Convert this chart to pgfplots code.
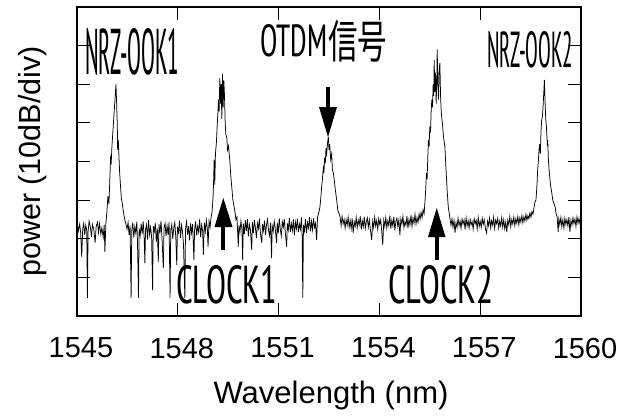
\documentclass[border=0pt]{standalone}
\usepackage{fontspec}
\setmainfont{Liberation Sans}
\newfontfamily\cjk{Noto Sans CJK JP}
\IfFontExistsTF{PT Sans Narrow}{\newfontfamily\narrowfont{PT Sans Narrow}}{\newfontfamily\narrowfont{Liberation Sans}}
\usepackage{graphicx}
\usepackage{pgfplots}
\pgfplotsset{compat=1.18}
\begin{document}
\begin{tikzpicture}
\begin{scope}[x=1pt,y=-1pt,shift={(-77pt,316pt)}]
\path[use as bounding box] (0,0) rectangle (620,416);
\end{scope}
\begin{axis}[at={(0,0)}, anchor=south west, scale only axis,
  width=504pt, height=309pt,
  xmin=1545, xmax=1560, ymin=0, ymax=80,
  xtick={1545,1548,1551,1554,1557,1560},
  ytick={10,20,30,40,50,60,70}, yticklabels={},
  tick align=inside, major tick length=13pt,
  every tick/.style={black, line width=1pt},
  axis line style={line width=2.5pt},
  /pgf/number format/1000 sep={},
  /pgf/number format/assume math mode=true,
  x tick label style={font=\fontsize{29}{29}\selectfont, anchor=north, inner sep=0pt, yshift=-21.7pt, xshift=4pt},
  xlabel={Wavelength (nm)}, ylabel={power (10dB/div)},
  xlabel style={font=\fontsize{31}{31}\selectfont, at={(axis description cs:0.504,-0.2104)}, anchor=north, inner sep=0pt},
  ylabel style={font=\fontsize{30.5}{30.5}\selectfont, at={(axis description cs:-0.1171,0.5)}, anchor=north, inner sep=0pt},
]
\addplot[black, line width=0.75pt] table {
x y
1545.00 24.5
1545.04 22.0
1545.08 23.8
1545.11 21.5
1545.14 15.3
1545.17 22.6
1545.20 24.0
1545.23 21.0
1545.26 23.5
1545.29 22.2
1545.31 4.7
1545.33 21.8
1545.36 24.6
1545.40 22.9
1545.43 20.5
1545.46 23.7
1545.50 22.4
1545.54 19.0
1545.57 23.2
1545.61 24.3
1545.64 21.6
1545.67 23.9
1545.71 21.2
1545.74 22.8
1545.78 20.4
1545.81 23.6
1545.83 16.6
1545.86 24.0
1545.89 27.0
1545.92 31.0
1545.95 29.0
1545.98 36.0
1546.00 41.0
1546.02 40.0
1546.04 44.0
1546.07 48.0
1546.10 52.0
1546.13 56.0
1546.16 60.0
1546.18 55.0
1546.20 49.0
1546.21 43.0
1546.23 45.5
1546.25 41.0
1546.27 37.0
1546.30 33.0
1546.32 30.5
1546.35 29.0
1546.38 27.0
1546.41 25.5
1546.45 24.0
1546.49 22.5
1546.52 24.2
1546.55 21.0
1546.58 23.4
1546.61 4.7
1546.63 22.0
1546.66 24.2
1546.69 20.3
1546.72 23.1
1546.75 21.5
1546.78 24.4
1546.80 19.5
1546.83 4.7
1546.85 22.7
1546.88 20.8
1546.91 23.9
1546.94 21.3
1546.97 24.5
1547.00 20.0
1547.02 13.7
1547.04 22.4
1547.07 23.6
1547.10 19.8
1547.13 24.8
1547.16 21.1
1547.19 23.0
1547.22 20.6
1547.25 6.7
1547.27 23.3
1547.30 21.9
1547.33 24.1
1547.36 19.2
1547.39 22.7
1547.42 14.0
1547.44 23.8
1547.47 21.4
1547.50 24.6
1547.53 20.1
1547.57 12.4
1547.59 22.9
1547.62 24.0
1547.65 20.7
1547.68 23.4
1547.71 21.0
1547.74 24.3
1547.77 4.7
1547.79 22.2
1547.82 23.7
1547.85 19.9
1547.88 22.8
1547.91 24.2
1547.94 20.5
1547.97 13.2
1547.99 23.1
1548.02 21.6
1548.05 24.7
1548.08 20.2
1548.11 23.5
1548.14 21.8
1548.17 18.5
1548.21 4.7
1548.23 22.6
1548.26 24.4
1548.29 21.0
1548.32 23.3
1548.35 19.6
1548.38 24.0
1548.41 21.5
1548.44 23.8
1548.48 14.5
1548.50 22.3
1548.53 24.5
1548.56 20.9
1548.59 23.2
1548.62 21.7
1548.65 25.0
1548.68 20.4
1548.71 23.6
1548.74 22.0
1548.76 15.8
1548.79 24.2
1548.82 21.9
1548.85 24.8
1548.88 22.5
1548.90 17.9
1548.93 24.6
1548.96 23.0
1548.99 25.5
1549.02 27.0
1549.05 31.0
1549.07 36.0
1549.08 40.5
1549.10 34.0
1549.12 42.0
1549.15 45.0
1549.17 49.0
1549.19 52.0
1549.21 56.0
1549.23 53.0
1549.25 61.5
1549.27 55.0
1549.29 60.0
1549.31 51.0
1549.33 62.7
1549.35 54.0
1549.37 61.0
1549.39 57.0
1549.41 50.0
1549.43 47.0
1549.46 46.0
1549.48 43.0
1549.51 44.0
1549.55 40.0
1549.58 36.0
1549.61 33.0
1549.64 30.0
1549.67 28.5
1549.70 27.0
1549.73 25.0
1549.76 25.6
1549.78 22.0
1549.80 17.9
1549.82 23.5
1549.85 21.8
1549.88 24.6
1549.91 22.3
1549.93 14.5
1549.95 23.9
1549.98 21.2
1550.01 24.8
1550.04 22.0
1550.07 25.1
1550.10 20.6
1550.13 23.7
1550.16 22.4
1550.20 17.1
1550.22 24.3
1550.25 21.5
1550.28 24.9
1550.31 22.8
1550.34 20.2
1550.37 24.0
1550.40 22.6
1550.43 25.2
1550.46 21.3
1550.50 18.9
1550.52 23.8
1550.55 22.1
1550.58 24.7
1550.61 21.0
1550.64 23.6
1550.67 25.0
1550.70 22.2
1550.73 20.8
1550.76 24.1
1550.79 15.0
1550.81 23.3
1550.84 21.9
1550.87 24.5
1550.90 22.7
1550.94 18.9
1550.96 24.2
1550.99 21.4
1551.02 25.3
1551.05 22.5
1551.08 20.7
1551.11 24.4
1551.14 23.0
1551.17 25.1
1551.20 21.6
1551.24 17.9
1551.26 24.0
1551.29 22.3
1551.32 25.4
1551.35 21.8
1551.38 23.9
1551.41 22.1
1551.44 25.0
1551.47 20.9
1551.50 24.3
1551.53 22.6
1551.56 25.2
1551.59 21.7
1551.62 23.8
1551.65 22.4
1551.68 25.5
1551.70 21.2
1551.72 4.7
1551.74 23.6
1551.77 22.0
1551.80 25.1
1551.83 21.5
1551.86 24.2
1551.89 22.8
1551.92 25.6
1551.95 21.9
1551.98 24.5
1552.01 22.3
1552.04 25.3
1552.07 22.9
1552.10 24.0
1552.13 19.7
1552.16 25.6
1552.19 26.5
1552.23 28.2
1552.26 31.0
1552.28 33.4
1552.30 35.0
1552.33 38.3
1552.35 37.0
1552.37 41.0
1552.39 39.5
1552.41 43.5
1552.43 42.0
1552.46 45.0
1552.48 46.4
1552.50 43.0
1552.52 44.5
1552.55 40.5
1552.58 42.0
1552.60 38.0
1552.63 37.0
1552.66 35.0
1552.69 32.5
1552.73 30.0
1552.76 27.5
1552.80 26.5
1552.83 25.6
1552.86 23.4
1552.89 25.8
1552.92 23.9
1552.95 25.0
1552.98 22.8
1553.01 24.9
1553.04 23.5
1553.07 25.6
1553.10 23.0
1553.13 24.7
1553.16 22.6
1553.19 25.3
1553.22 21.5
1553.25 24.4
1553.28 23.2
1553.31 25.5
1553.34 22.9
1553.37 24.8
1553.40 23.6
1553.43 25.9
1553.46 22.4
1553.49 24.6
1553.52 23.1
1553.55 25.7
1553.58 22.7
1553.61 24.3
1553.64 25.4
1553.67 23.0
1553.70 24.9
1553.74 21.8
1553.77 19.7
1553.80 24.5
1553.83 22.9
1553.86 25.6
1553.89 23.3
1553.92 24.7
1553.95 22.5
1553.98 25.2
1554.01 23.7
1554.04 24.9
1554.07 21.9
1554.10 18.4
1554.13 24.8
1554.16 23.2
1554.19 25.5
1554.22 22.8
1554.25 24.6
1554.28 23.4
1554.31 26.0
1554.34 22.6
1554.37 24.8
1554.40 23.3
1554.43 25.7
1554.46 22.2
1554.49 24.5
1554.52 25.3
1554.55 23.1
1554.58 24.9
1554.61 21.0
1554.64 25.2
1554.67 23.8
1554.70 25.8
1554.73 22.9
1554.76 24.4
1554.79 23.5
1554.82 25.9
1554.85 22.7
1554.88 25.0
1554.91 23.6
1554.94 26.1
1554.97 23.2
1555.00 25.4
1555.03 24.0
1555.06 26.3
1555.09 23.8
1555.12 25.5
1555.15 24.2
1555.18 26.4
1555.21 25.0
1555.24 26.8
1555.27 25.5
1555.30 27.5
1555.33 26.5
1555.36 30.0
1555.38 33.0
1555.40 37.0
1555.42 35.5
1555.44 41.0
1555.46 45.6
1555.48 44.0
1555.50 49.0
1555.52 47.5
1555.54 53.0
1555.56 56.0
1555.58 54.0
1555.60 60.0
1555.62 57.0
1555.63 66.3
1555.65 58.0
1555.67 63.0
1555.69 55.0
1555.71 62.0
1555.72 69.0
1555.74 60.0
1555.76 56.0
1555.78 64.0
1555.80 65.5
1555.82 57.0
1555.84 53.0
1555.86 51.0
1555.88 49.5
1555.90 47.0
1555.93 45.0
1555.95 43.8
1555.97 40.0
1556.00 35.2
1556.02 32.0
1556.05 28.2
1556.08 26.5
1556.10 25.2
1556.13 23.5
1556.16 25.1
1556.19 23.0
1556.22 24.8
1556.25 21.5
1556.28 24.2
1556.31 22.9
1556.34 25.3
1556.37 23.4
1556.40 24.6
1556.43 22.7
1556.46 25.1
1556.49 23.8
1556.52 24.9
1556.55 22.4
1556.58 25.4
1556.61 23.3
1556.64 24.7
1556.67 22.8
1556.70 25.0
1556.73 23.6
1556.76 24.4
1556.79 22.5
1556.82 25.2
1556.85 23.9
1556.88 24.8
1556.91 22.6
1556.94 25.5
1556.97 23.2
1557.00 24.5
1557.03 23.0
1557.06 25.3
1557.09 23.7
1557.12 24.9
1557.16 22.4
1557.19 21.5
1557.22 24.6
1557.25 23.4
1557.28 25.4
1557.31 22.9
1557.34 24.7
1557.37 23.5
1557.40 25.6
1557.43 22.7
1557.46 24.8
1557.49 23.9
1557.52 25.2
1557.55 22.8
1557.58 24.6
1557.61 23.3
1557.64 25.5
1557.67 23.0
1557.70 24.9
1557.73 22.6
1557.76 24.3
1557.79 21.7
1557.82 24.8
1557.85 23.6
1557.88 25.7
1557.91 23.1
1557.94 25.0
1557.97 23.8
1558.00 25.6
1558.03 23.4
1558.06 25.2
1558.09 24.0
1558.12 25.8
1558.15 23.6
1558.18 25.4
1558.21 24.3
1558.24 26.0
1558.27 24.1
1558.30 25.7
1558.33 24.6
1558.36 26.3
1558.39 24.8
1558.42 26.0
1558.45 25.2
1558.48 26.7
1558.51 25.6
1558.54 27.0
1558.57 26.4
1558.60 28.0
1558.63 29.5
1558.66 30.0
1558.69 34.0
1558.71 37.8
1558.73 40.0
1558.75 43.0
1558.77 44.5
1558.79 42.0
1558.81 48.0
1558.83 50.8
1558.85 51.5
1558.87 54.0
1558.89 57.5
1558.91 61.1
1558.93 55.5
1558.95 51.0
1558.97 49.0
1558.98 47.4
1559.00 44.0
1559.01 45.5
1559.03 40.4
1559.05 38.0
1559.08 35.0
1559.10 33.5
1559.13 31.9
1559.16 30.0
1559.20 29.0
1559.23 28.2
1559.26 26.5
1559.29 25.6
1559.32 21.8
1559.34 25.2
1559.37 23.6
1559.40 25.5
1559.43 23.1
1559.46 24.9
1559.49 22.8
1559.52 25.3
1559.55 23.7
1559.58 25.0
1559.61 23.3
1559.64 25.6
1559.67 21.8
1559.70 24.7
1559.73 23.5
1559.76 25.4
1559.79 23.9
1559.82 25.1
1559.85 23.2
1559.88 25.7
1559.91 24.0
1559.94 25.3
1559.97 23.8
1560.00 25.0
};
\end{axis}
\begin{scope}[x=1pt,y=-1pt,shift={(-77pt,316pt)}]
\node[anchor=base west, inner sep=0pt] at (85,75) {\resizebox{94pt}{46pt}{\narrowfont NRZ-OOK1}};
\node[anchor=base west, inner sep=0pt] at (260,57) {\resizebox{67pt}{32pt}{\narrowfont OTDM}};
\node[anchor=base west, inner sep=0pt] at (328,59) {\resizebox{59pt}{38pt}{\cjk 信号}};
\node[anchor=base west, inner sep=0pt] at (487,68) {\resizebox{86pt}{36pt}{\narrowfont NRZ-OOK2}};
\node[anchor=base west, inner sep=0pt] at (176,303) {\resizebox{101pt}{38pt}{\narrowfont CLOCK1}};
\node[anchor=base west, inner sep=0pt] at (388,303) {\resizebox{105pt}{38pt}{\narrowfont CLOCK2}};
% arrows
\draw[line width=4pt] (328,87) -- (328,110);
\fill (319,107) -- (337,107) -- (328,137) -- cycle;
\draw[line width=4pt] (223.3,250) -- (223.3,224);
\fill (214.5,227) -- (232.5,227) -- (223.3,198) -- cycle;
\draw[line width=4pt] (436.7,260) -- (436.7,234);
\fill (428,237) -- (445.5,237) -- (436.7,208) -- cycle;
\end{scope}
\end{tikzpicture}
\end{document}
